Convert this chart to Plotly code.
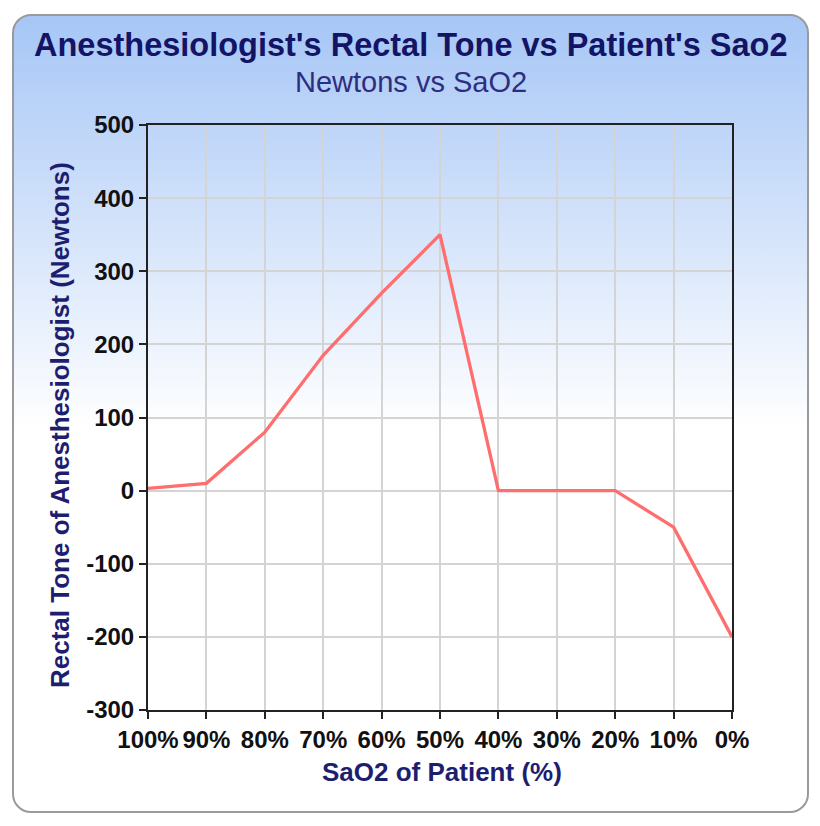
import base64
import plotly.graph_objects as go

categories = ["100%", "90%", "80%", "70%", "60%", "50%", "40%", "30%", "20%", "10%", "0%"]
newtons = [3, 10, 80, 185, 270, 350, 0, 0, 0, -50, -200]
y_ticks = [-300, -200, -100, 0, 100, 200, 300, 400, 500]
y_tick_text = [str(v) for v in y_ticks]

OFF = 8  # page body margin
W, H = 820 - OFF, 826 - OFF
L, R, T, B = 148 - OFF, 732 - OFF, 125 - OFF, 710 - OFF

def px(x):
    return (x - OFF - L) / (R - L)

def py(y):
    return (B - (y - OFF)) / (B - T)

svg = f'''<svg xmlns="http://www.w3.org/2000/svg" width="{W}" height="{H}" viewBox="0 0 {W} {H}">
<defs><linearGradient id="g" x1="0" y1="0" x2="0" y2="1">
<stop offset="0" stop-color="#a6c6f6"/><stop offset="0.52" stop-color="#ffffff"/><stop offset="1" stop-color="#ffffff"/>
</linearGradient></defs>
<rect x="{13 - OFF}" y="{15 - OFF}" width="795" height="797" rx="18" ry="18" fill="url(#g)" stroke="#9a9a9a" stroke-width="2"/>
</svg>'''
src = "data:image/svg+xml;base64," + base64.b64encode(svg.encode()).decode()

fig = go.Figure()
fig.add_trace(go.Scatter(x=categories, y=newtons, mode="lines",
                         line=dict(color="#ff6e6e", width=3.3), hoverinfo="x+y"))

font = "Liberation Sans, Arial, sans-serif"
axis_common = dict(showgrid=True, gridcolor="#d4d4d4", gridwidth=1.5,
                   showline=True, linecolor="#222", linewidth=2, mirror=True,
                   ticks="outside", ticklen=7, tickcolor="#222", tickwidth=2,
                   tickfont=dict(family=font, size=24, color="#111", weight="bold"),
                   zeroline=False)
fig.update_layout(
    width=W, height=H,
    margin=dict(l=L, r=W - R, t=T, b=H - B),
    paper_bgcolor="white", plot_bgcolor="rgba(0,0,0,0)",
    showlegend=False,
    images=[dict(source=src, xref="paper", yref="paper", x=-L / (R - L), y=B / (B - T),
                 sizex=W / (R - L), sizey=H / (B - T), sizing="stretch",
                 xanchor="left", yanchor="top", layer="below")],
    xaxis=dict(type="category", categoryorder="array", categoryarray=categories,
               range=[0, len(categories) - 1], **axis_common),
    yaxis=dict(range=[-300, 500], tickvals=y_ticks, ticktext=y_tick_text, **axis_common),
    annotations=[
        dict(text="Anesthesiologist's Rectal Tone vs Patient's Sao2", xref="paper", yref="paper",
             x=px(411), y=py(45), showarrow=False, xanchor="center", yanchor="middle",
             font=dict(family=font, size=32.5, color="#141466", weight="bold")),
        dict(text="Newtons vs SaO2", xref="paper", yref="paper",
             x=px(411), y=py(82), showarrow=False, xanchor="center", yanchor="middle",
             font=dict(family=font, size=29, color="#2e2e80")),
        dict(text="SaO2 of Patient (%)", xref="paper", yref="paper",
             x=px(442), y=py(772), showarrow=False, xanchor="center", yanchor="middle",
             font=dict(family=font, size=26, color="#1e1e70", weight="bold")),
        dict(text="Rectal Tone of Anesthesiologist (Newtons)", xref="paper", yref="paper",
             x=px(60), y=py(425), showarrow=False, xanchor="center", yanchor="middle", textangle=-90,
             font=dict(family=font, size=26, color="#1e1e70", weight="bold")),
    ],
)
fig.write_html("out.html")
